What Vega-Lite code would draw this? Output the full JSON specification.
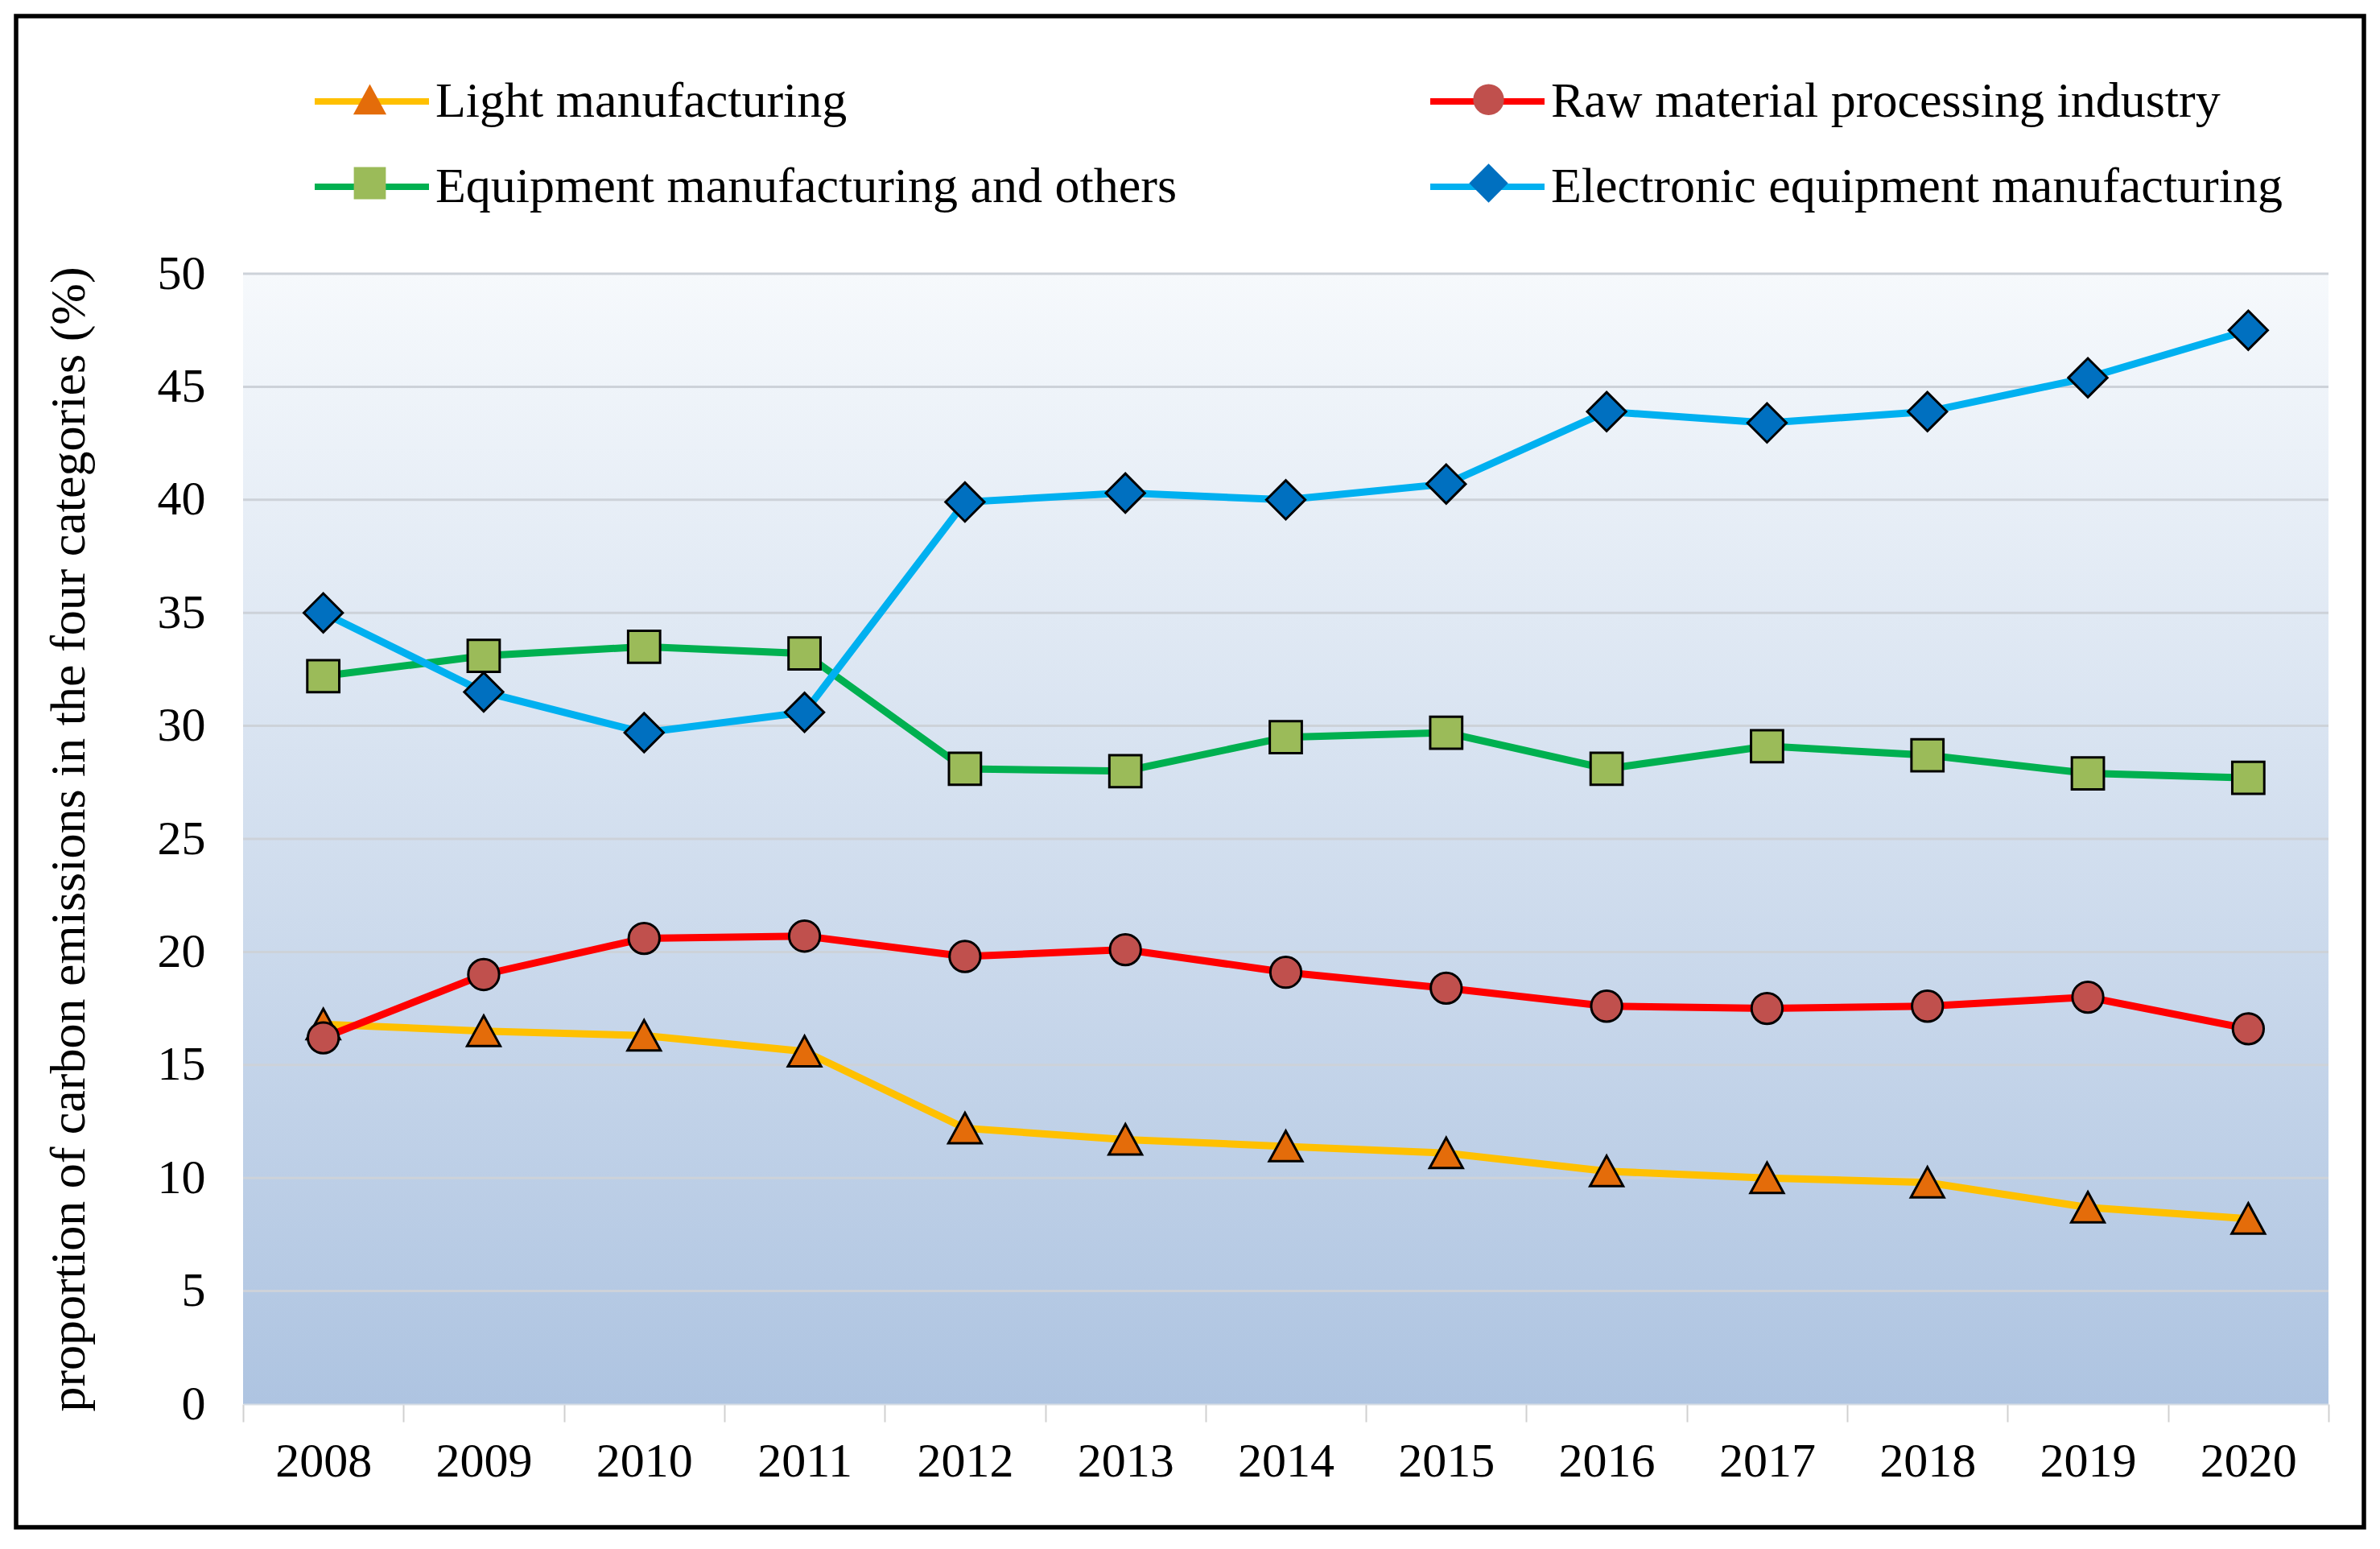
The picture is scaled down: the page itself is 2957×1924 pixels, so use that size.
{
  "$schema": "https://vega.github.io/schema/vega-lite/v6.json",
  "width": 2917,
  "height": 1877,
  "autosize": {"type": "none"},
  "padding": {"left": 20, "top": 20, "right": 20, "bottom": 27},
  "background": "white",
  "config": {
    "view": {"stroke": "black", "strokeWidth": 5.5, "fill": null},
    "font": "Liberation Serif"
  },
  "data": {
    "values": [
      {"year": 2008, "industry": "Light manufacturing", "value": 16.8},
      {"year": 2009, "industry": "Light manufacturing", "value": 16.5},
      {"year": 2010, "industry": "Light manufacturing", "value": 16.3},
      {"year": 2011, "industry": "Light manufacturing", "value": 15.6},
      {"year": 2012, "industry": "Light manufacturing", "value": 12.2},
      {"year": 2013, "industry": "Light manufacturing", "value": 11.7},
      {"year": 2014, "industry": "Light manufacturing", "value": 11.4},
      {"year": 2015, "industry": "Light manufacturing", "value": 11.1},
      {"year": 2016, "industry": "Light manufacturing", "value": 10.3},
      {"year": 2017, "industry": "Light manufacturing", "value": 10.0},
      {"year": 2018, "industry": "Light manufacturing", "value": 9.8},
      {"year": 2019, "industry": "Light manufacturing", "value": 8.7},
      {"year": 2020, "industry": "Light manufacturing", "value": 8.2},
      {"year": 2008, "industry": "Raw material processing industry", "value": 16.2},
      {"year": 2009, "industry": "Raw material processing industry", "value": 19.0},
      {"year": 2010, "industry": "Raw material processing industry", "value": 20.6},
      {"year": 2011, "industry": "Raw material processing industry", "value": 20.7},
      {"year": 2012, "industry": "Raw material processing industry", "value": 19.8},
      {"year": 2013, "industry": "Raw material processing industry", "value": 20.1},
      {"year": 2014, "industry": "Raw material processing industry", "value": 19.1},
      {"year": 2015, "industry": "Raw material processing industry", "value": 18.4},
      {"year": 2016, "industry": "Raw material processing industry", "value": 17.6},
      {"year": 2017, "industry": "Raw material processing industry", "value": 17.5},
      {"year": 2018, "industry": "Raw material processing industry", "value": 17.6},
      {"year": 2019, "industry": "Raw material processing industry", "value": 18.0},
      {"year": 2020, "industry": "Raw material processing industry", "value": 16.6},
      {"year": 2008, "industry": "Equipment manufacturing and others", "value": 32.2},
      {"year": 2009, "industry": "Equipment manufacturing and others", "value": 33.1},
      {"year": 2010, "industry": "Equipment manufacturing and others", "value": 33.5},
      {"year": 2011, "industry": "Equipment manufacturing and others", "value": 33.2},
      {"year": 2012, "industry": "Equipment manufacturing and others", "value": 28.1},
      {"year": 2013, "industry": "Equipment manufacturing and others", "value": 28.0},
      {"year": 2014, "industry": "Equipment manufacturing and others", "value": 29.5},
      {"year": 2015, "industry": "Equipment manufacturing and others", "value": 29.7},
      {"year": 2016, "industry": "Equipment manufacturing and others", "value": 28.1},
      {"year": 2017, "industry": "Equipment manufacturing and others", "value": 29.1},
      {"year": 2018, "industry": "Equipment manufacturing and others", "value": 28.7},
      {"year": 2019, "industry": "Equipment manufacturing and others", "value": 27.9},
      {"year": 2020, "industry": "Equipment manufacturing and others", "value": 27.7},
      {"year": 2008, "industry": "Electronic equipment manufacturing", "value": 35.0},
      {"year": 2009, "industry": "Electronic equipment manufacturing", "value": 31.5},
      {"year": 2010, "industry": "Electronic equipment manufacturing", "value": 29.7},
      {"year": 2011, "industry": "Electronic equipment manufacturing", "value": 30.6},
      {"year": 2012, "industry": "Electronic equipment manufacturing", "value": 39.9},
      {"year": 2013, "industry": "Electronic equipment manufacturing", "value": 40.3},
      {"year": 2014, "industry": "Electronic equipment manufacturing", "value": 40.0},
      {"year": 2015, "industry": "Electronic equipment manufacturing", "value": 40.7},
      {"year": 2016, "industry": "Electronic equipment manufacturing", "value": 43.9},
      {"year": 2017, "industry": "Electronic equipment manufacturing", "value": 43.4},
      {"year": 2018, "industry": "Electronic equipment manufacturing", "value": 43.9},
      {"year": 2019, "industry": "Electronic equipment manufacturing", "value": 45.4},
      {"year": 2020, "industry": "Electronic equipment manufacturing", "value": 47.5}
    ]
  },
  "encoding": {
    "x": {
      "field": "year",
      "type": "ordinal",
      "scale": {"range": [282, 2873], "paddingInner": 0, "paddingOuter": 0},
      "axis": {
        "title": null,
        "offset": -153,
        "labelAngle": 0,
        "labelFont": "Liberation Serif",
        "labelFontSize": 60,
        "labelColor": "black",
        "labelPadding": 20,
        "domain": true,
        "domainColor": "#D6DCE4",
        "domainWidth": 2,
        "ticks": true,
        "tickBand": "extent",
        "tickSize": 22,
        "tickColor": "#D0D0D0",
        "tickWidth": 2,
        "grid": false
      }
    }
  },
  "layer": [
    {
      "mark": {
        "type": "rect",
        "fill": {
          "gradient": "linear",
          "x1": 0, "y1": 0, "x2": 0, "y2": 1,
          "stops": [
            {"offset": 0, "color": "#F6F9FC"},
            {"offset": 1, "color": "#AEC4E1"}
          ]
        }
      },
      "encoding": {
        "y": {"datum": 0, "type": "quantitative"},
        "y2": {"datum": 50}
      }
    },
    {
      "data": {
        "values": [
          {"grid": 5}, {"grid": 10}, {"grid": 15}, {"grid": 20}, {"grid": 25},
          {"grid": 30}, {"grid": 35}, {"grid": 40}, {"grid": 45}, {"grid": 50}
        ]
      },
      "mark": {"type": "rule", "color": "#CDD2D9", "strokeWidth": 3},
      "encoding": {
        "x": {"datum": 2008, "type": "ordinal", "bandPosition": 0},
        "x2": {"datum": 2020, "bandPosition": 1},
        "y": {"field": "grid", "type": "quantitative"}
      }
    },
    {
      "mark": {"type": "line", "strokeWidth": 9},
      "encoding": {
        "y": {
          "field": "value",
          "type": "quantitative",
          "scale": {"domain": [0, 50], "range": [1724, 320], "nice": false, "zero": true},
          "axis": {
            "title": "proportion of carbon emissions in the four categories (%)",
            "offset": -282,
            "values": [0, 5, 10, 15, 20, 25, 30, 35, 40, 45, 50],
            "domain": false,
            "ticks": false,
            "tickSize": 0,
            "labelFont": "Liberation Serif",
            "labelFontSize": 60,
            "labelColor": "black",
            "labelPadding": 47,
            "grid": false,
            "titleFont": "Liberation Serif",
            "titleFontSize": 62,
            "titleFontWeight": "normal",
            "titleColor": "black",
            "titlePadding": 78
          }
        },
        "stroke": {
          "field": "industry",
          "type": "nominal",
          "sort": ["Light manufacturing", "Raw material processing industry", "Equipment manufacturing and others", "Electronic equipment manufacturing"],
          "scale": {"range": ["#FFC000", "#FF0000", "#00B050", "#00B0F0"]},
          "legend": {
            "title": null,
            "orient": "none",
            "direction": "horizontal",
            "legendX": 367,
            "legendY": 31,
            "columns": 2,
            "columnPadding": 298,
            "rowPadding": 0,
            "symbolType": "stroke",
            "symbolSize": 20164,
            "symbolStrokeWidth": 8,
            "labelFont": "Liberation Serif",
            "labelFontSize": 62,
            "labelColor": "black",
            "labelLimit": 3000,
            "labelOffset": 4,
            "zindex": 0
          }
        }
      }
    },
    {
      "mark": {"type": "point", "filled": true, "size": 20164, "stroke": "black", "strokeWidth": 3, "opacity": 1},
      "encoding": {
        "y": {"field": "value", "type": "quantitative"},
        "shape": {
          "field": "industry",
          "type": "nominal",
          "scale": {
            "domain": ["Light manufacturing", "Raw material processing industry", "Equipment manufacturing and others", "Electronic equipment manufacturing"],
            "range": [
              "M0,-0.27L0.29,0.26L-0.29,0.26Z",
              "M-0.27,0A0.27,0.27,0,1,1,0.27,0A0.27,0.27,0,1,1,-0.27,0Z",
              "M-0.28,-0.28H0.28V0.28H-0.28Z",
              "M-0.34,0L0,-0.34L0.34,0L0,0.34Z"
            ]
          },
          "legend": {
            "title": null,
            "orient": "none",
            "direction": "horizontal",
            "legendX": 367,
            "legendY": 31,
            "columns": 2,
            "columnPadding": 1241,
            "rowPadding": 0,
            "symbolSize": 20164,
            "symbolStrokeColor": "black",
            "symbolStrokeWidth": 3,
            "labelFont": "Liberation Serif",
            "labelFontSize": 62,
            "labelExpr": "''",
            "labelOffset": 4,
            "zindex": 1
          }
        },
        "fill": {
          "field": "industry",
          "type": "nominal",
          "scale": {
            "domain": ["Light manufacturing", "Raw material processing industry", "Equipment manufacturing and others", "Electronic equipment manufacturing"],
            "range": ["#E46C0A", "#C0504D", "#9BBB59", "#0070C0"]
          },
          "legend": null
        }
      }
    }
  ]
}
